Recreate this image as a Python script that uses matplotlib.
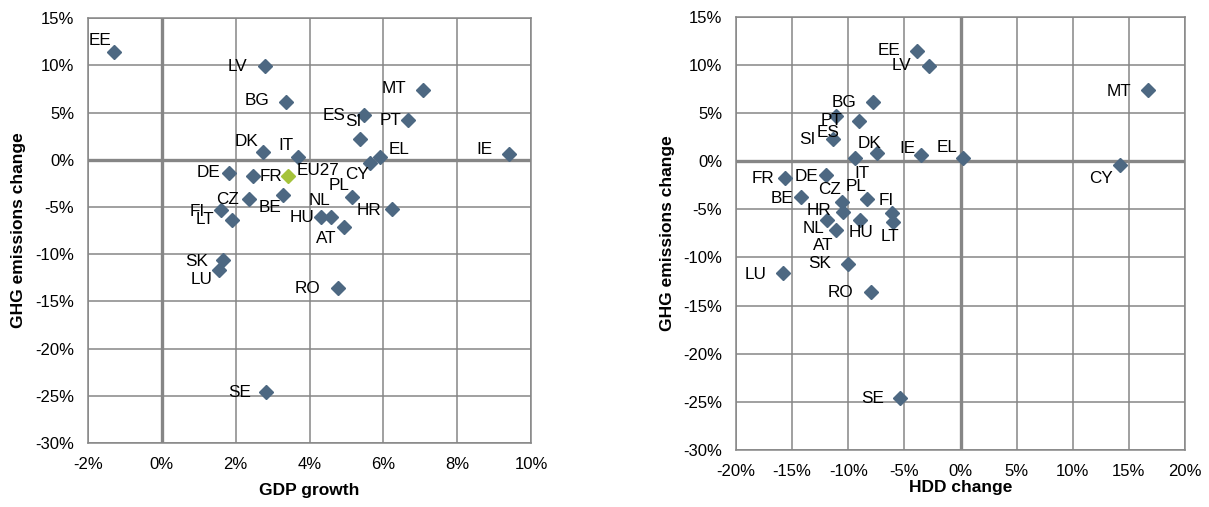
import matplotlib

matplotlib.use("Agg")

import matplotlib.pyplot as plt
from matplotlib.ticker import FuncFormatter, MultipleLocator

plt.rcParams["font.family"] = ["Liberation Sans", "DejaVu Sans"]

# member states in one order for every array below
countries = ["EE", "LV", "BG", "MT", "ES", "SI", "PT", "DK", "IT", "EL", "CY", "IE",
             "DE", "FR", "BE", "CZ", "PL", "FI", "LT", "HU", "NL", "AT", "HR",
             "SK", "LU", "RO", "SE"]
ghg_change = [11.45, 9.9, 6.1, 7.4, 4.7, 2.25, 4.2, 0.8, 0.3, 0.3, -0.35, 0.6,
              -1.4, -1.75, -3.77, -4.2, -3.95, -5.35, -6.35, -6.1, -6.1, -7.15, -5.25,
              -10.65, -11.65, -13.6, -24.6]
gdp_growth = [-1.29, 2.79, 3.37, 7.08, 5.48, 5.37, 6.68, 2.74, 3.69, 5.91, 5.65, 9.41,
              1.82, 2.46, 3.27, 2.35, 5.14, 1.61, 1.89, 4.32, 4.58, 4.93, 6.24,
              1.65, 1.54, 4.76, 2.83]
hdd_change = [-3.86, -2.8, -7.78, 16.7, -11.1, -11.4, -9.06, -7.4, -9.4, 0.18, 14.2, -3.53,
              -12.0, -15.6, -14.2, -10.6, -8.34, -6.15, -6.06, -9.0, -11.9, -11.08, -10.5,
              -10.04, -15.8, -8.0, -5.4]

eu27_gdp = 3.43
eu27_ghg = -1.77

# label offsets in points, per panel
gdp_offsets = {
    "EE": (-10, 8), "LV": (-20, 0), "BG": (-21, 1), "MT": (-21, 1), "ES": (-22, 0),
    "SI": (-5, 12), "PT": (-13, 0), "DK": (-12, 8), "IT": (-9, 8), "EL": (14, 5),
    "CY": (-10, -8), "IE": (-18, 3), "DE": (-15, 0), "FR": (13, 0), "BE": (-9, -9),
    "CZ": (-15, 0), "PL": (-9, 8), "FI": (-17, -1), "LT": (-19, 0), "HU": (-14, 0),
    "NL": (-8, 12), "AT": (-13, -8), "HR": (-17, -1), "SK": (-19, -1), "LU": (-12, -7),
    "RO": (-22, 0), "SE": (-19, 0),
}
hdd_offsets = {
    "EE": (-20, 0), "LV": (-20, 0), "BG": (-21, 0), "MT": (-21, -1), "ES": (-6, -12),
    "SI": (-18, 0), "PT": (-20, 0), "DK": (-6, 7), "IT": (5, -11), "EL": (-11, 8),
    "CY": (-14, -10), "IE": (-10, 5), "DE": (-14, -1), "FR": (-16, 0), "BE": (-14, -1),
    "CZ": (-9, 9), "PL": (-8, 9), "FI": (-4, 9), "LT": (-2, -10), "HU": (1, -9),
    "NL": (-10, -6), "AT": (-9, -11), "HR": (-17, 1), "SK": (-20, 0), "LU": (-20, -1),
    "RO": (-22, 0), "SE": (-20, 0),
}

GRID = "#868686"
MARKER = "#4d6882"
EU_MARKER = "#a5c33b"
pct = FuncFormatter(lambda v, _: f"{v:.0f}%")


def style_axes(ax, xlim, xstep, xlabel):
    ax.set_xlim(*xlim)
    ax.set_ylim(-30, 15)
    ax.xaxis.set_major_locator(MultipleLocator(xstep))
    ax.yaxis.set_major_locator(MultipleLocator(5))
    ax.xaxis.set_major_formatter(pct)
    ax.yaxis.set_major_formatter(pct)
    ax.grid(True, color=GRID, lw=1.1)
    ax.set_axisbelow(True)
    for sp in ax.spines.values():
        sp.set_color(GRID)
        sp.set_linewidth(1.1)
    ax.axhline(0, color=GRID, lw=2.4, zorder=1)
    ax.axvline(0, color=GRID, lw=2.4, zorder=1)
    ax.tick_params(length=0, labelsize=12, colors="black")
    ax.tick_params(axis="x", pad=10)
    ax.tick_params(axis="y", pad=10)
    ax.set_xlabel(xlabel, fontsize=12.5, fontweight="bold")
    ax.set_ylabel("GHG emissions change", fontsize=12.5, fontweight="bold")


def label_points(ax, xs, offsets):
    for name, x, y in zip(countries, xs, ghg_change):
        ax.annotate(name, (x, y), xytext=offsets[name], textcoords="offset points",
                    ha="center", va="center", fontsize=12.3, zorder=4)


fig = plt.figure(figsize=(12.09, 5.07), dpi=100)
ax1 = fig.add_axes([0.0728, 0.1262, 0.3664, 0.838])
ax2 = fig.add_axes([0.6088, 0.1124, 0.3714, 0.8546])

style_axes(ax1, (-2, 10), 2, "GDP growth")
ax1.plot(gdp_growth, ghg_change, "D", color=MARKER, ms=7, zorder=3)
ax1.plot([eu27_gdp], [eu27_ghg], "D", color=EU_MARKER, ms=7, zorder=3)
label_points(ax1, gdp_growth, gdp_offsets)
ax1.annotate("EU27", (eu27_gdp, eu27_ghg), xytext=(21, 4), textcoords="offset points",
             ha="center", va="center", fontsize=12.3, zorder=4)
ax1.yaxis.set_label_coords(-0.14, 0.5)
ax1.xaxis.set_label_coords(0.5, -0.094)

style_axes(ax2, (-20, 20), 5, "HDD change")
ax2.plot(hdd_change, ghg_change, "D", color=MARKER, ms=7, zorder=3)
label_points(ax2, hdd_change, hdd_offsets)
ax2.yaxis.set_label_coords(-0.136, 0.5)
ax2.xaxis.set_label_coords(0.5, -0.069)

fig.savefig("out.png", dpi=100, facecolor="white")
